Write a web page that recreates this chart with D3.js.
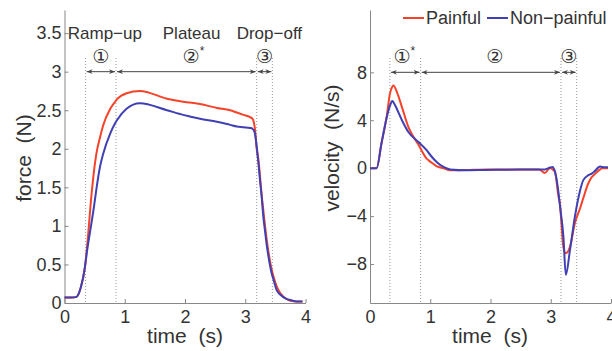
<!DOCTYPE html>
<html>
<head>
<meta charset="utf-8">
<script src="https://cdn.jsdelivr.net/npm/d3@7"></script>
<style>
  body { margin: 0; background: #fff; }
  text { font-family: "Liberation Sans", Arial, sans-serif; fill: #333; }
</style>
</head>
<body>
<svg id="chart" width="612" height="351"></svg>
<script>
// force curves (time s, force N)
const forceT = [0, 0.12, 0.2, 0.27, 0.34, 0.37, 0.45, 0.48, 0.53, 0.59, 0.64, 0.76, 0.84, 0.87, 1.03, 1.25, 1.7, 1.97, 2.08, 2.25, 2.53, 2.75, 2.86, 2.97, 3.08, 3.12, 3.16, 3.19, 3.22, 3.25, 3.27, 3.3, 3.33, 3.36, 3.39, 3.44, 3.47, 3.52, 3.58, 3.69, 3.75, 3.85, 3.95];
const forcePainful = [0.07, 0.07, 0.08, 0.2, 0.47, 0.69, 1.42, 1.65, 1.94, 2.15, 2.3, 2.52, 2.61, 2.64, 2.72, 2.75, 2.65, 2.61, 2.6, 2.58, 2.53, 2.5, 2.47, 2.44, 2.41, 2.39, 2.26, 2.0, 1.85, 1.6, 1.42, 1.2, 0.99, 0.8, 0.64, 0.43, 0.34, 0.22, 0.13, 0.05, 0.03, 0.02, 0.02];
const forceNonPainful = [0.07, 0.07, 0.08, 0.2, 0.47, 0.65, 1.05, 1.2, 1.48, 1.77, 1.93, 2.2, 2.33, 2.37, 2.52, 2.59, 2.5, 2.44, 2.42, 2.39, 2.35, 2.31, 2.29, 2.28, 2.27, 2.26, 2.2, 2.03, 1.8, 1.55, 1.4, 1.12, 0.92, 0.73, 0.58, 0.38, 0.3, 0.17, 0.11, 0.05, 0.04, 0.02, 0.02];

// velocity curves (time s, N/s)
const velT = [0, 0.11, 0.19, 0.28, 0.33, 0.37, 0.39, 0.45, 0.53, 0.64, 0.8, 0.94, 1.0, 1.11, 1.22, 1.33, 1.6, 1.93, 2.48, 2.81, 2.9, 2.99, 3.03, 3.07, 3.13, 3.15, 3.21, 3.25, 3.32, 3.4, 3.49, 3.54, 3.62, 3.68, 3.72, 3.82, 3.85, 3.95];
const velPainful = [0, 0, 2.06, 4.4, 6.2, 6.8, 6.9, 6.3, 5.1, 3.4, 2.0, 0.8, 0.55, 0.15, 0.0, -0.17, -0.15, -0.1, -0.1, -0.12, -0.4, 0.02, -0.1, -0.3, -2.4, -2.9, -6.6, -7.1, -6.55, -4.6, -3.3, -2.5, -1.3, -0.75, -0.55, -0.1, 0, 0];
const velNonPainful = [0, 0, 2.06, 4.3, 5.2, 5.6, 5.5, 4.9, 4.0, 3.0, 2.2, 1.5, 1.1, 0.5, 0.1, -0.1, -0.17, -0.15, -0.12, -0.12, -0.1, 0.05, 0.1, -0.3, -2.1, -3.0, -5.7, -8.9, -6.8, -4.06, -1.8, -1.0, -0.6, -0.45, -0.3, 0.14, 0.1, 0.08];

// phase boundaries (s) and labels
const forceBounds = [0.35, 0.855, 3.19, 3.45];
const velBounds = [0.33, 0.84, 3.17, 3.43];
const phaseNums = ["①", "②", "③"];
const phaseNames = ["Ramp−up", "Plateau", "Drop−off"];
const forceTicks = [0, 0.5, 1, 1.5, 2, 2.5, 3, 3.5];
const forceTickLabels = ["0", "0.5", "1", "1.5", "2", "2.5", "3", "3.5"];
const velTicks = [-8, -4, 0, 4, 8];
const velTickLabels = ["−8", "−4", "0", "4", "8"];
const timeTicks = [0, 1, 2, 3, 4];
const seriesNames = ["Painful", "Non−painful"];
const colors = ["#f5432a", "#4040b4"];

const svg = d3.select("#chart");

const defs = svg.append("defs");
defs.append("marker")
    .attr("id", "ah")
    .attr("viewBox", "0 0 10 10")
    .attr("refX", 10).attr("refY", 5)
    .attr("markerWidth", 6).attr("markerHeight", 6)
    .attr("markerUnits", "userSpaceOnUse")
    .attr("orient", "auto-start-reverse")
    .append("path")
    .attr("d", "M0,1 L10,5 L0,9 L3,5 Z")
    .attr("fill", "#444");

function panel(opt) {
  const x = d3.scaleLinear().domain([0, 4]).range(opt.xr);
  const y = d3.scaleLinear().domain(opt.yd).range([303, 10]);
  const g = svg.append("g");

  // dotted phase lines
  g.selectAll(".vl")
   .data(opt.bounds)
   .enter()
   .append("line")
   .attr("x1", d => x(d)).attr("x2", d => x(d))
   .attr("y1", 58).attr("y2", 303)
   .attr("stroke", "#999")
   .attr("stroke-width", 1)
   .attr("stroke-dasharray", "1,2");

  // axes
  const ax = g.append("g")
    .attr("transform", `translate(0,303)`)
    .call(d3.axisBottom(x).tickValues(timeTicks).tickFormat(d3.format("d"))
            .tickSizeInner(-4).tickSizeOuter(0).tickPadding(7));
  const ay = g.append("g")
    .attr("transform", `translate(${opt.xr[0]},0)`)
    .call(d3.axisLeft(y).tickValues(opt.ticks).tickFormat((d, i) => opt.tickLabels[i])
            .tickSizeInner(-4).tickSizeOuter(0).tickPadding(3));
  [ax, ay].forEach(a => {
    a.select(".domain").attr("stroke", "#888");
    a.selectAll(".tick line").attr("stroke", "#888");
    a.selectAll(".tick text").style("font-size", "18px").attr("fill", "#333")
     .style("font-family", "'Liberation Sans', Arial, sans-serif");
  });

  // series
  const line = d3.line().x((d, i) => x(opt.t[i])).y(d => y(d)).curve(d3.curveMonotoneX);
  opt.series.forEach((s, k) => {
    g.append("path")
     .datum(s)
     .attr("d", line)
     .attr("fill", "none")
     .attr("stroke", colors[k])
     .attr("stroke-width", 2)
     .attr("stroke-linejoin", "round");
  });

  // arrows between phase bounds
  const segs = d3.pairs(opt.bounds);
  g.selectAll(".arr")
   .data(segs)
   .enter()
   .append("line")
   .attr("x1", d => x(d[0]) + 1).attr("x2", d => x(d[1]) - 1)
   .attr("y1", y(opt.arrowY)).attr("y2", y(opt.arrowY))
   .attr("stroke", "#444").attr("stroke-width", 1)
   .attr("marker-start", "url(#ah)")
   .attr("marker-end", "url(#ah)");

  // circled phase numbers
  g.selectAll(".pn")
   .data(opt.numPos)
   .enter()
   .append("text")
   .attr("x", d => x(d))
   .attr("y", 63)
   .attr("text-anchor", "middle")
   .style("font-size", "19px")
   .style("font-family", "'DejaVu Sans', 'Noto Sans CJK JP', sans-serif")
   .text((d, i) => phaseNums[i]);

  g.append("text")
   .attr("x", x(opt.numPos[opt.star]) + 11)
   .attr("y", 55)
   .attr("text-anchor", "middle")
   .style("font-size", "12px")
   .text("*");

  return {x, y, g};
}

const left = panel({
  xr: [64.5, 305.5], yd: [0, 3.8], bounds: forceBounds,
  ticks: forceTicks, tickLabels: forceTickLabels,
  t: forceT, series: [forcePainful, forceNonPainful],
  arrowY: 3, numPos: [0.6, 2.1, 3.32], star: 1
});
const right = panel({
  xr: [370, 611], yd: [-11.25, 13.2], bounds: velBounds,
  ticks: velTicks, tickLabels: velTickLabels,
  t: velT, series: [velPainful, velNonPainful],
  arrowY: 8, numPos: [0.53, 2.07, 3.3], star: 0
});

// phase names over the force panel
left.g.selectAll(".name")
  .data([0.67, 2.11, 3.4])
  .enter()
  .append("text")
  .attr("x", d => left.x(d))
  .attr("y", 39)
  .attr("text-anchor", "middle")
  .style("font-size", "17px")
  .text((d, i) => phaseNames[i]);

// axis labels
svg.append("text").attr("x", 185).attr("y", 343).attr("text-anchor", "middle")
   .style("font-size", "21px").style("white-space", "pre").text("time  (s)");
svg.append("text").attr("x", 490).attr("y", 343).attr("text-anchor", "middle")
   .style("font-size", "21px").style("white-space", "pre").text("time  (s)");
svg.append("text").attr("transform", "translate(31,158) rotate(-90)").attr("text-anchor", "middle")
   .style("font-size", "21px").style("white-space", "pre").text("force  (N)");
svg.append("text").attr("transform", "translate(339,148) rotate(-90)").attr("text-anchor", "middle")
   .style("font-size", "21px").style("white-space", "pre").text("velocity  (N/s)");

// legend
const legend = svg.append("g");
const legX = [403, 487];
seriesNames.forEach((name, i) => {
  legend.append("line")
    .attr("x1", legX[i]).attr("x2", legX[i] + 21)
    .attr("y1", 18).attr("y2", 18)
    .attr("stroke", colors[i]).attr("stroke-width", 2);
  legend.append("text")
    .attr("x", legX[i] + 23).attr("y", 24)
    .style("font-size", "18px")
    .text(name);
});
</script>
</body>
</html>
